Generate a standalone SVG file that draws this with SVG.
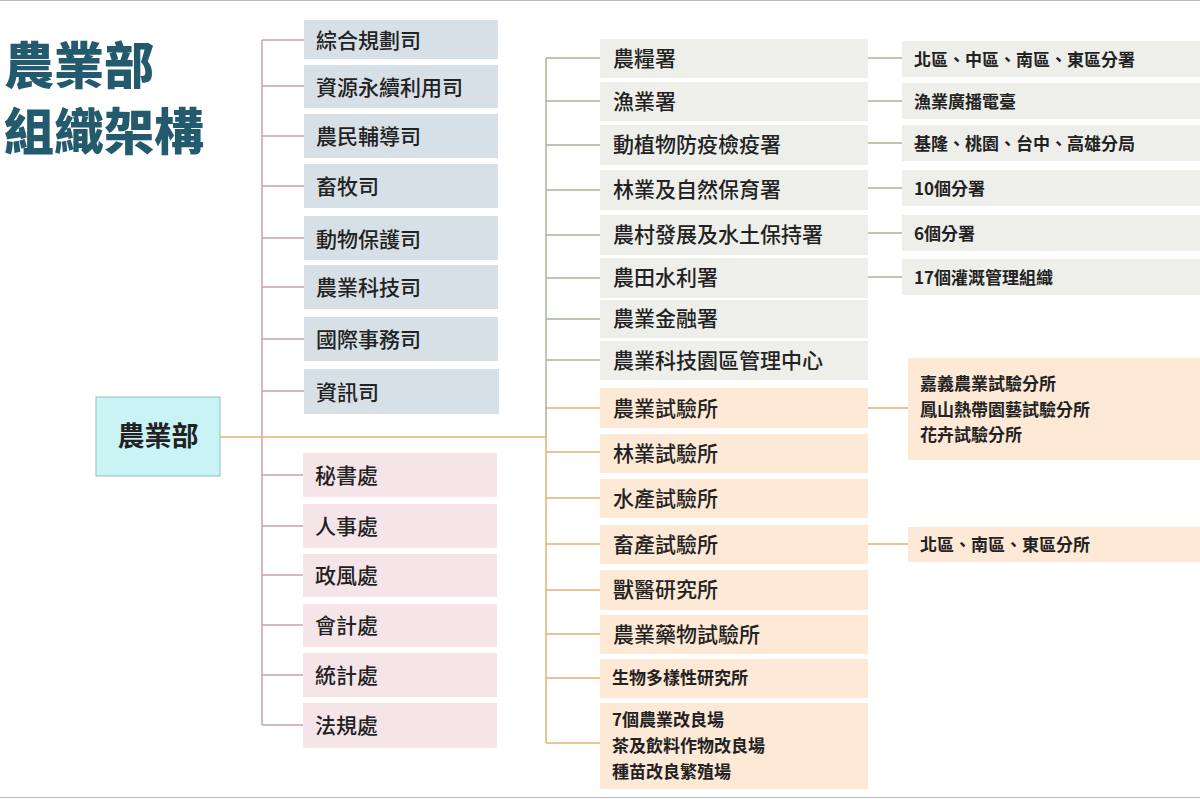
<svg xmlns="http://www.w3.org/2000/svg" width="1200" height="799" viewBox="0 0 1200 799">
<style>
text{font-family:"Noto Sans CJK TC","Noto Sans CJK SC",sans-serif;fill:#222}
.t{font-size:21px;font-weight:500}
.s{font-size:17px;font-weight:700}
.b{fill:#d6e0e6}.p{fill:#f5e5e9}.g{fill:#eeefeb}.o{fill:#fde9d6}
.lp{stroke:#c9a2ab;stroke-width:1.5;fill:none}
.lg{stroke:#a6b49a;stroke-width:1.5;fill:none}
.lo{stroke:#e2b171;stroke-width:1.5;fill:none}
</style>
<rect width="1200" height="799" fill="#fff"/>
<line x1="0" y1="0.5" x2="1200" y2="0.5" stroke="#bbb"/>
<line x1="0" y1="797.5" x2="1200" y2="797.5" stroke="#bbb"/>
<text x="4" y="84" style="font-size:50px;font-weight:900;fill:#245a6e">農業部</text>
<text x="4" y="150" style="font-size:50px;font-weight:900;fill:#245a6e">組織架構</text>
<g id="connectors">
<path class="lp" d="M262 40V725M262 40H304M262 86H304M262 136H304M262 186H304M262 238H304M262 287H304M262 339H304M262 391H304M262 475H303M262 526H303M262 575H303M262 625H303M262 675H303M262 725H303"/>
<path class="lo" d="M220 437H546V743M546 452H600M546 498H600M546 544H600M546 590H600M546 634H600M546 678H600M546 743H600M546 408H600"/>
<path class="lg" d="M546 58V437M546 58H600M546 101H600M546 145H600M546 190H600M546 235H600M546 278H600M546 319H600M546 360H600"/>
<path class="lg" d="M868 58H902M868 101H902M868 143H902M868 188H902M868 233H902M868 277H902"/>
<path class="lo" d="M868 408H908M868 544H908"/>
</g>
<g id="root"><rect x="96" y="397" width="124" height="79" fill="#c9f3f5" stroke="#9bb"/><text x="158" y="446" text-anchor="middle" style="font-size:27px;font-weight:700">農業部</text></g>
<g id="l1"><rect class="b" x="304" y="20" width="194" height="39"/><text class="t" x="316" y="48">綜合規劃司</text></g>
<g id="l2"><rect class="b" x="304" y="65" width="194" height="43"/><text class="t" x="316" y="95">資源永續利用司</text></g>
<g id="l3"><rect class="b" x="304" y="114" width="194" height="44"/><text class="t" x="316" y="144">農民輔導司</text></g>
<g id="l4"><rect class="b" x="304" y="164" width="194" height="44"/><text class="t" x="316" y="194">畜牧司</text></g>
<g id="l5"><rect class="b" x="304" y="216" width="194" height="44"/><text class="t" x="316" y="247">動物保護司</text></g>
<g id="l6"><rect class="b" x="304" y="265" width="194" height="44"/><text class="t" x="316" y="295">農業科技司</text></g>
<g id="l7"><rect class="b" x="304" y="317" width="194" height="44"/><text class="t" x="316" y="347">國際事務司</text></g>
<g id="l8"><rect class="b" x="304" y="369" width="195" height="45"/><text class="t" x="316" y="400">資訊司</text></g>
<g id="p1"><rect class="p" x="303" y="453" width="194" height="44"/><text class="t" x="315" y="483">秘書處</text></g>
<g id="p2"><rect class="p" x="303" y="504" width="194" height="44"/><text class="t" x="315" y="534">人事處</text></g>
<g id="p3"><rect class="p" x="303" y="554" width="194" height="43"/><text class="t" x="315" y="583">政風處</text></g>
<g id="p4"><rect class="p" x="303" y="604" width="194" height="43"/><text class="t" x="315" y="633">會計處</text></g>
<g id="p5"><rect class="p" x="303" y="653" width="194" height="44"/><text class="t" x="315" y="683">統計處</text></g>
<g id="p6"><rect class="p" x="303" y="703" width="194" height="45"/><text class="t" x="315" y="733">法規處</text></g>
<g id="m1"><rect class="g" x="600" y="39" width="268" height="39"/><text class="t" x="613" y="66">農糧署</text></g>
<g id="m2"><rect class="g" x="600" y="82" width="268" height="39"/><text class="t" x="613" y="109">漁業署</text></g>
<g id="m3"><rect class="g" x="600" y="125" width="268" height="40"/><text class="t" x="613" y="152">動植物防疫檢疫署</text></g>
<g id="m4"><rect class="g" x="600" y="170" width="268" height="40"/><text class="t" x="613" y="197">林業及自然保育署</text></g>
<g id="m5"><rect class="g" x="600" y="215" width="268" height="40"/><text class="t" x="613" y="242">農村發展及水土保持署</text></g>
<g id="m6"><rect class="g" x="600" y="258" width="268" height="40"/><text class="t" x="613" y="285">農田水利署</text></g>
<g id="m7"><rect class="g" x="600" y="300" width="268" height="38"/><text class="t" x="613" y="326">農業金融署</text></g>
<g id="m8"><rect class="g" x="600" y="341" width="268" height="39"/><text class="t" x="613" y="368">農業科技園區管理中心</text></g>
<g id="m9"><rect class="o" x="600" y="388" width="268" height="40"/><text class="t" x="613" y="416">農業試驗所</text></g>
<g id="m10"><rect class="o" x="600" y="434" width="268" height="39"/><text class="t" x="613" y="461">林業試驗所</text></g>
<g id="m11"><rect class="o" x="600" y="479" width="268" height="39"/><text class="t" x="613" y="506">水產試驗所</text></g>
<g id="m12"><rect class="o" x="600" y="525" width="268" height="39"/><text class="t" x="613" y="552">畜產試驗所</text></g>
<g id="m13"><rect class="o" x="600" y="570" width="268" height="40"/><text class="t" x="613" y="597">獸醫研究所</text></g>
<g id="m14"><rect class="o" x="600" y="615" width="268" height="39"/><text class="t" x="613" y="642">農業藥物試驗所</text></g>
<g id="m15"><rect class="o" x="600" y="659" width="268" height="39"/><text class="s" x="612" y="684">生物多樣性研究所</text></g>
<g id="m16"><rect class="o" x="600" y="703" width="268" height="86"/><text class="s" x="612" y="726">7個農業改良場</text><text class="s" x="612" y="752">茶及飲料作物改良場</text><text class="s" x="612" y="778">種苗改良繁殖場</text></g>
<g id="r1"><rect class="g" x="902" y="41" width="298" height="36"/><text class="s" x="914" y="66">北區、中區、南區、東區分署</text></g>
<g id="r2"><rect class="g" x="902" y="83" width="298" height="36"/><text class="s" x="914" y="108">漁業廣播電臺</text></g>
<g id="r3"><rect class="g" x="902" y="125" width="298" height="36"/><text class="s" x="914" y="150">基隆、桃園、台中、高雄分局</text></g>
<g id="r4"><rect class="g" x="902" y="170" width="298" height="36"/><text class="s" x="914" y="195">10個分署</text></g>
<g id="r5"><rect class="g" x="902" y="215" width="298" height="36"/><text class="s" x="914" y="240">6個分署</text></g>
<g id="r6"><rect class="g" x="902" y="259" width="298" height="36"/><text class="s" x="914" y="284">17個灌溉管理組織</text></g>
<g id="r7"><rect class="o" x="908" y="358" width="292" height="102"/><text class="s" x="920" y="390">嘉義農業試驗分所</text><text class="s" x="920" y="416">鳳山熱帶園藝試驗分所</text><text class="s" x="920" y="441">花卉試驗分所</text></g>
<g id="r8"><rect class="o" x="908" y="527" width="292" height="35"/><text class="s" x="920" y="551">北區、南區、東區分所</text></g>
</svg>
